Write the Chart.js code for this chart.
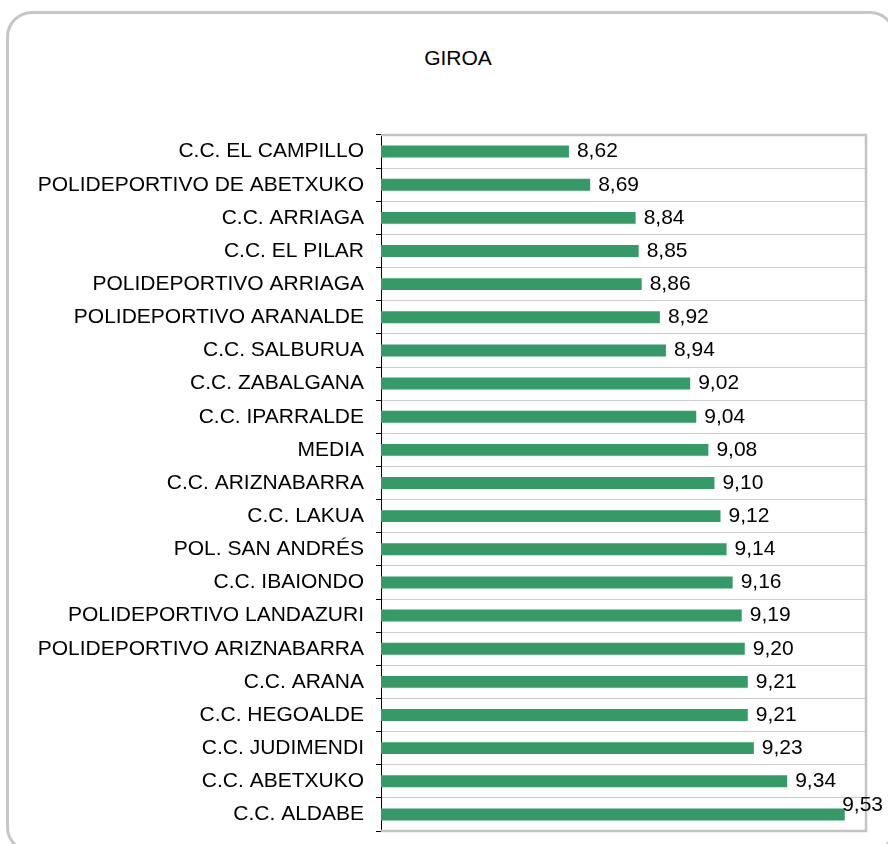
<!DOCTYPE html>
<html lang="es">
<head>
    <meta charset="UTF-8">
    <title>GIROA</title>
    <script src="https://cdn.jsdelivr.net/npm/chart.js"></script>
    <style>
        body { margin: 0; background: #fff; overflow: hidden; }
        .wrap { position: relative; width: 888px; height: 844px; }
        .frame {
            position: absolute; left: 6px; top: 11px; width: 884px; height: 836px;
            border: 3px solid #c6c6c6; border-radius: 26px;
        }
        .title {
            position: absolute; left: 358px; width: 200px; top: 46px;
            text-align: center; font: 21px 'Liberation Sans', Arial, sans-serif; color: #000;
        }
        canvas { position: absolute; left: 0; top: 0; }
    </style>
</head>
<body>
    <div class="wrap">
        <div class="frame"></div>
        <div class="title">GIROA</div>
        <canvas id="giroaChart" width="888" height="844"></canvas>
    </div>

    <script>
        const centros = [
            'C.C. EL CAMPILLO', 'POLIDEPORTIVO DE ABETXUKO', 'C.C. ARRIAGA', 'C.C. EL PILAR',
            'POLIDEPORTIVO ARRIAGA', 'POLIDEPORTIVO ARANALDE', 'C.C. SALBURUA', 'C.C. ZABALGANA',
            'C.C. IPARRALDE', 'MEDIA', 'C.C. ARIZNABARRA', 'C.C. LAKUA', 'POL. SAN ANDRÉS',
            'C.C. IBAIONDO', 'POLIDEPORTIVO LANDAZURI', 'POLIDEPORTIVO ARIZNABARRA', 'C.C. ARANA',
            'C.C. HEGOALDE', 'C.C. JUDIMENDI', 'C.C. ABETXUKO', 'C.C. ALDABE'
        ];
        const notas = [
            8.62, 8.69, 8.84, 8.85, 8.86, 8.92, 8.94, 9.02, 9.04, 9.08, 9.10,
            9.12, 9.14, 9.16, 9.19, 9.20, 9.21, 9.21, 9.23, 9.34, 9.53
        ];
        const ejeMin = 8;
        const ejeMax = 9.6;

        const font = "'Liberation Sans', Arial, sans-serif";

        // gray border round the plot area (top, right, bottom)
        const plotBorder = {
            id: 'plotBorder',
            beforeDatasetsDraw(chart) {
                const { ctx, chartArea: a } = chart;
                ctx.save();
                ctx.strokeStyle = '#c4c4c4';
                ctx.lineWidth = 2.5;
                ctx.beginPath();
                ctx.moveTo(a.left, a.top);
                ctx.lineTo(a.right, a.top);
                ctx.lineTo(a.right, a.bottom);
                ctx.lineTo(a.left, a.bottom);
                ctx.stroke();
                ctx.restore();
            }
        };

        // value labels at the end of each bar, comma decimals
        const valueLabels = {
            id: 'valueLabels',
            afterDatasetsDraw(chart) {
                const { ctx } = chart;
                const meta = chart.getDatasetMeta(0);
                ctx.save();
                ctx.font = '21px ' + font;
                ctx.fillStyle = '#000';
                ctx.textAlign = 'left';
                ctx.textBaseline = 'middle';
                meta.data.forEach((bar, i) => {
                    const txt = notas[i].toFixed(2).replace('.', ',');
                    const w = ctx.measureText(txt).width;
                    let x = bar.x + 8;
                    let y = bar.y;
                    if (x + w > 883) {
                        x = 883 - w;
                        y -= 9;
                    }
                    ctx.fillText(txt, x, y);
                });
                ctx.restore();
            }
        };

        new Chart(document.getElementById('giroaChart'), {
            type: 'bar',
            data: {
                labels: centros,
                datasets: [{
                    data: notas,
                    backgroundColor: '#349a66',
                    barPercentage: 0.36,
                    categoryPercentage: 1
                }]
            },
            options: {
                indexAxis: 'y',
                responsive: false,
                animation: false,
                layout: { padding: { left: 0, right: 22, top: 135, bottom: 13 } },
                plugins: {
                    legend: { display: false },
                    tooltip: { enabled: false }
                },
                scales: {
                    x: {
                        display: false,
                        min: ejeMin,
                        max: ejeMax
                    },
                    y: {
                        afterFit(scale) {
                            scale.width = 381;
                            scale.paddingTop = 0;
                            scale.paddingBottom = 0;
                        },
                        grid: {
                            offset: true,
                            color: '#cdcdcd',
                            tickColor: '#000',
                            tickLength: 5
                        },
                        border: { color: '#000', width: 1 },
                        ticks: {
                            color: '#000',
                            padding: 12,
                            autoSkip: false,
                            font: { family: font, size: 21 }
                        }
                    }
                }
            },
            plugins: [plotBorder, valueLabels]
        });
    </script>
</body>
</html>
